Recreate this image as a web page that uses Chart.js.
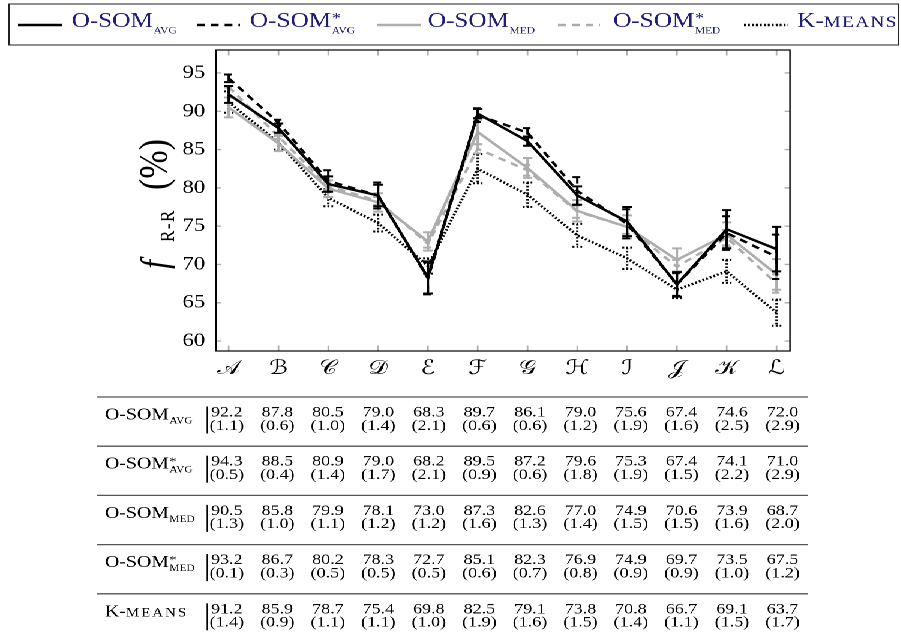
<!DOCTYPE html>
<html><head><meta charset="utf-8">
<script src="https://cdn.jsdelivr.net/npm/chart.js@4/dist/chart.umd.min.js"></script>
<style>
html,body{margin:0;padding:0;background:#fff;width:901px;height:642px;overflow:hidden}
#wrap{position:absolute;left:0;top:0;width:751px;height:642px;transform:scaleX(1.2);transform-origin:0 0;background:#fff}
</style>
</head><body>
<div id="wrap"><canvas id="c"></canvas></div>
<script>
// ---------- data ----------
const categories = ['𝒜','ℬ','𝒞','𝒟','ℰ','ℱ','𝒢','ℋ','ℐ','𝒥','𝒦','ℒ'];
const yTicks = [60, 65, 70, 75, 80, 85, 90, 95];

const seriesNames = ['O-SOM', 'O-SOM', 'O-SOM', 'O-SOM', 'K-means'];
const seriesSubs  = ['avg', 'avg', 'med', 'med', ''];
const seriesStars = [false, true, false, true, false];

const osomAvg       = [92.2, 87.8, 80.5, 79.0, 68.3, 89.7, 86.1, 79.0, 75.6, 67.4, 74.6, 72.0];
const osomAvgSd     = [1.1, 0.6, 1.0, 1.4, 2.1, 0.6, 0.6, 1.2, 1.9, 1.6, 2.5, 2.9];
const osomAvgStar   = [94.3, 88.5, 80.9, 79.0, 68.2, 89.5, 87.2, 79.6, 75.3, 67.4, 74.1, 71.0];
const osomAvgStarSd = [0.5, 0.4, 1.4, 1.7, 2.1, 0.9, 0.6, 1.8, 1.9, 1.5, 2.2, 2.9];
const osomMed       = [90.5, 85.8, 79.9, 78.1, 73.0, 87.3, 82.6, 77.0, 74.9, 70.6, 73.9, 68.7];
const osomMedSd     = [1.3, 1.0, 1.1, 1.2, 1.2, 1.6, 1.3, 1.4, 1.5, 1.5, 1.6, 2.0];
const osomMedStar   = [93.2, 86.7, 80.2, 78.3, 72.7, 85.1, 82.3, 76.9, 74.9, 69.7, 73.5, 67.5];
const osomMedStarSd = [0.1, 0.3, 0.5, 0.5, 0.5, 0.6, 0.7, 0.8, 0.9, 0.9, 1.0, 1.2];
const kmeans        = [91.2, 85.9, 78.7, 75.4, 69.8, 82.5, 79.1, 73.8, 70.8, 66.7, 69.1, 63.7];
const kmeansSd      = [1.4, 0.9, 1.1, 1.1, 1.0, 1.9, 1.6, 1.5, 1.4, 1.1, 1.5, 1.7];

// ---------- styles ----------
const FONT = "'Liberation Serif', 'Times New Roman', serif";
const SCRIPT_FONT = "'DejaVu Serif', 'DejaVu Sans', 'Noto Sans', serif";
const NAVY = '#1e1e78';
const GRAY = '#adadad';
const meansList = [osomAvg, osomAvgStar, osomMed, osomMedStar, kmeans];
const sdList = [osomAvgSd, osomAvgStarSd, osomMedSd, osomMedStarSd, kmeansSd];
const lineStyles = [
  {color: '#000', dash: []},
  {color: '#000', dash: [6.5, 5]},
  {color: GRAY, dash: []},
  {color: GRAY, dash: [6.5, 5]},
  {color: '#000', dash: [1.6, 1.7]}
];
const LW = 2.4;

function drawSC(ctx, text, x, y, size, ratio, spacing, color) {
  ctx.fillStyle = color;
  let i = 0;
  while (i < text.length) {
    const lower = /[a-z]/.test(text[i]);
    let j = i;
    while (j < text.length && /[a-z]/.test(text[j]) === lower) j++;
    let seg = text.slice(i, j);
    if (lower) seg = seg.toUpperCase();
    ctx.font = (lower ? size * ratio : size) + 'px ' + FONT;
    ctx.letterSpacing = lower ? spacing + 'px' : '0px';
    ctx.fillText(seg, x, y);
    x += ctx.measureText(seg).width;
    i = j;
  }
  ctx.letterSpacing = '0px';
  return x;
}

function drawSeriesLabel(ctx, k, x, y, o) {
  ctx.textAlign = 'left';
  ctx.textBaseline = 'alphabetic';
  x = drawSC(ctx, seriesNames[k], x, y, o.size, o.scRatio, o.scSpacing, o.color);
  let adv = 0;
  if (seriesStars[k]) {
    ctx.font = (o.size * 0.72) + 'px ' + FONT;
    ctx.fillStyle = o.color;
    ctx.fillText('*', x + 0.5, y - o.size * 0.22);
    adv = ctx.measureText('*').width + 0.5;
  }
  if (seriesSubs[k]) {
    const x2 = drawSC(ctx, seriesSubs[k].toUpperCase(), x + 0.5, y + o.drop, o.subSize, 1, o.subSpacing, o.color);
    adv = Math.max(adv, x2 - x);
  }
  return x + adv;
}

const bgPlugin = {
  id: 'bg',
  beforeDraw(chart) {
    const ctx = chart.ctx;
    ctx.save(); ctx.fillStyle = '#fff'; ctx.fillRect(0, 0, chart.width, chart.height); ctx.restore();
  }
};

const errorBarPlugin = {
  id: 'errbars',
  afterDatasetDraw(chart, args) {
    const k = args.index;
    const ctx = chart.ctx, xs = chart.scales.x, ys = chart.scales.y;
    const st = lineStyles[k];
    ctx.save();
    ctx.strokeStyle = st.color; ctx.lineWidth = 2; ctx.setLineDash(st.dash); ctx.lineCap = 'butt';
    const cap = 4;
    meansList[k].forEach((m, i) => {
      const px = xs.getPixelForValue(i);
      const top = ys.getPixelForValue(m + sdList[k][i]);
      const bot = ys.getPixelForValue(m - sdList[k][i]);
      ctx.beginPath();
      ctx.moveTo(px, top); ctx.lineTo(px, bot);
      ctx.moveTo(px - cap, top); ctx.lineTo(px + cap, top);
      ctx.moveTo(px - cap, bot); ctx.lineTo(px + cap, bot);
      ctx.stroke();
    });
    ctx.restore();
  }
};

const framePlugin = {
  id: 'frame',
  afterDatasetsDraw(chart) {
    const ctx = chart.ctx, a = chart.chartArea, xs = chart.scales.x, ys = chart.scales.y;
    ctx.save();
    ctx.strokeStyle = '#b0b0b0'; ctx.lineWidth = 1.4;
    ctx.beginPath();
    yTicks.forEach(v => {
      const py = ys.getPixelForValue(v);
      ctx.moveTo(a.left, py); ctx.lineTo(a.left + 4.5, py);
      ctx.moveTo(a.right - 4.5, py); ctx.lineTo(a.right, py);
    });
    categories.forEach((c, i) => {
      const px = xs.getPixelForValue(i);
      ctx.moveTo(px, a.bottom); ctx.lineTo(px, a.bottom - 5.5);
      ctx.moveTo(px, a.top); ctx.lineTo(px, a.top + 5.5);
    });
    ctx.stroke();
    ctx.strokeStyle = '#000'; ctx.lineWidth = 1.2;
    ctx.strokeRect(a.left, a.top, a.right - a.left, a.bottom - a.top);
    ctx.restore();
  }
};

const titlePlugin = {
  id: 'ytitle',
  afterDraw(chart) {
    const ctx = chart.ctx;
    ctx.save();
    ctx.translate(139, 270);
    ctx.rotate(-Math.PI / 2);
    ctx.textBaseline = 'alphabetic'; ctx.textAlign = 'left'; ctx.fillStyle = '#000';
    ctx.font = 'italic 32px ' + FONT; ctx.fillText('f', 1, 0);
    ctx.font = '17px ' + FONT; ctx.letterSpacing = '1.5px'; ctx.fillText('R-R', 28, 6); ctx.letterSpacing = '0px';
    ctx.font = '34px ' + FONT; ctx.fillText('(%)', 80, 0);
    ctx.restore();
  }
};

const legendPlugin = {
  id: 'customLegend',
  afterDraw(chart) {
    const ctx = chart.ctx;
    ctx.save();
    ctx.strokeStyle = '#222'; ctx.lineWidth = 1;
    ctx.strokeRect(7.5, 4, 741.5, 41);
    // sample start, sample end, text start (logical px)
    const items = [[15, 51.7, 59.7], [164.2, 200, 208.3], [314, 351, 356.5], [465, 500, 511], [620, 656.5, 664.2]];
    items.forEach((it, k) => {
      const st = lineStyles[k];
      ctx.strokeStyle = st.color; ctx.lineWidth = 2.6; ctx.setLineDash(st.dash);
      ctx.beginPath(); ctx.moveTo(it[0], 25); ctx.lineTo(it[1], 25); ctx.stroke();
      ctx.setLineDash([]);
      drawSeriesLabel(ctx, k, it[2], 27, {size: 21, scRatio: 0.76, scSpacing: 1.2, subSize: 9.5, subSpacing: 0.6, drop: 6.5, color: NAVY});
    });
    ctx.restore();
  }
};

const tablePlugin = {
  id: 'table',
  afterDraw(chart) {
    const ctx = chart.ctx;
    const ROW0 = 397, ROWSTEP = 49.2, COL0 = 189, COLSTEP = 42.1;
    ctx.save();
    meansList.forEach((m, r) => {
      const top = ROW0 + r * ROWSTEP;
      ctx.strokeStyle = '#555'; ctx.lineWidth = 1.3;
      ctx.beginPath(); ctx.moveTo(80.8, top); ctx.lineTo(673.3, top); ctx.stroke();
      ctx.strokeStyle = '#000'; ctx.lineWidth = 0.9;
      ctx.beginPath(); ctx.moveTo(172.6, top + 9.5); ctx.lineTo(172.6, top + 36.5); ctx.stroke();
      drawSeriesLabel(ctx, r, 87.5, top + 22.5, {size: 16.5, scRatio: 0.76, scSpacing: 1.6, subSize: 9.5, subSpacing: 0.7, drop: 4, color: '#000'});
      ctx.fillStyle = '#000'; ctx.font = '15px ' + FONT; ctx.textAlign = 'center'; ctx.textBaseline = 'alphabetic';
      m.forEach((v, i) => {
        const cx = COL0 + i * COLSTEP;
        ctx.fillText(v.toFixed(1), cx, top + 19.5);
        ctx.fillText('(' + sdList[r][i].toFixed(1) + ')', cx, top + 32.8);
      });
    });
    ctx.restore();
  }
};

const datasets = meansList.map((m, k) => ({
  label: seriesNames[k] + (seriesStars[k] ? '*' : '') + (seriesSubs[k] ? ' ' + seriesSubs[k] : ''),
  data: m.map((v, i) => ({x: i, y: v})),
  borderColor: lineStyles[k].color,
  backgroundColor: lineStyles[k].color,
  borderDash: lineStyles[k].dash,
  borderWidth: LW,
  pointRadius: 0,
  tension: 0,
  fill: false
}));

new Chart(document.getElementById('c'), {
  type: 'line',
  data: {datasets},
  options: {
    responsive: true,
    maintainAspectRatio: false,
    animation: false,
    devicePixelRatio: 2,
    layout: {padding: {left: 0, top: 50, right: 92.7, bottom: 251}},
    plugins: {legend: {display: false}, tooltip: {enabled: false}},
    scales: {
      x: {
        type: 'linear', min: -0.255, max: 11.27,
        grid: {display: false, drawTicks: false}, border: {display: false},
        afterBuildTicks: s => { s.ticks = categories.map((c, i) => ({value: i})); },
        afterFit: s => { s.height = 40; },
        ticks: {autoSkip: false, maxRotation: 0, minRotation: 0, padding: 6, color: '#000',
          font: {family: SCRIPT_FONT, size: 20}, callback: v => categories[v]}
      },
      y: {
        min: 58.7, max: 98,
        grid: {display: false, drawTicks: false}, border: {display: false},
        afterBuildTicks: s => { s.ticks = yTicks.map(v => ({value: v})); },
        afterFit: s => { s.width = 180; },
        ticks: {padding: 9, color: '#000', font: {family: FONT, size: 19}}
      }
    }
  },
  plugins: [bgPlugin, errorBarPlugin, framePlugin, titlePlugin, legendPlugin, tablePlugin]
});
</script>
</body></html>
